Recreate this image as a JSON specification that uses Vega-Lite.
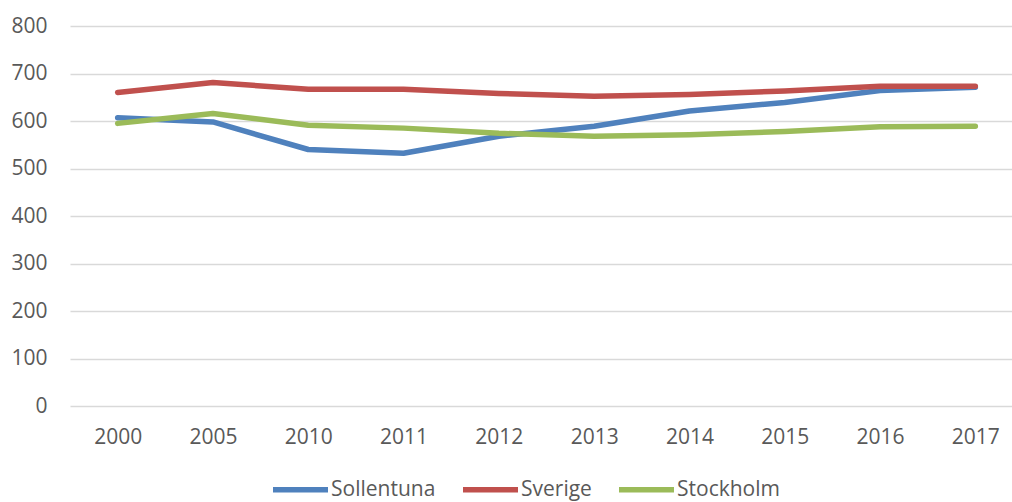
{
  "$schema": "https://vega.github.io/schema/vega-lite/v6.json",
  "width": 953,
  "height": 380,
  "autosize": {"type": "none"},
  "padding": {"left": 70, "top": 26, "right": -11, "bottom": 96},
  "background": "white",
  "config": {
    "view": {"stroke": null},
    "font": "Open Sans"
  },
  "data": {
    "values": [
      {"year": "2000", "series": "Sollentuna", "value": 607},
      {"year": "2005", "series": "Sollentuna", "value": 598},
      {"year": "2010", "series": "Sollentuna", "value": 540},
      {"year": "2011", "series": "Sollentuna", "value": 532},
      {"year": "2012", "series": "Sollentuna", "value": 568},
      {"year": "2013", "series": "Sollentuna", "value": 589},
      {"year": "2014", "series": "Sollentuna", "value": 621},
      {"year": "2015", "series": "Sollentuna", "value": 639},
      {"year": "2016", "series": "Sollentuna", "value": 664},
      {"year": "2017", "series": "Sollentuna", "value": 671},
      {"year": "2000", "series": "Sverige", "value": 660},
      {"year": "2005", "series": "Sverige", "value": 681},
      {"year": "2010", "series": "Sverige", "value": 667},
      {"year": "2011", "series": "Sverige", "value": 667},
      {"year": "2012", "series": "Sverige", "value": 658},
      {"year": "2013", "series": "Sverige", "value": 652},
      {"year": "2014", "series": "Sverige", "value": 656},
      {"year": "2015", "series": "Sverige", "value": 663},
      {"year": "2016", "series": "Sverige", "value": 673},
      {"year": "2017", "series": "Sverige", "value": 673},
      {"year": "2000", "series": "Stockholm", "value": 595},
      {"year": "2005", "series": "Stockholm", "value": 616},
      {"year": "2010", "series": "Stockholm", "value": 591},
      {"year": "2011", "series": "Stockholm", "value": 585},
      {"year": "2012", "series": "Stockholm", "value": 574},
      {"year": "2013", "series": "Stockholm", "value": 568},
      {"year": "2014", "series": "Stockholm", "value": 571},
      {"year": "2015", "series": "Stockholm", "value": 578},
      {"year": "2016", "series": "Stockholm", "value": 588},
      {"year": "2017", "series": "Stockholm", "value": 589}
    ]
  },
  "mark": {"type": "line", "strokeWidth": 5.5, "strokeCap": "round", "strokeJoin": "round"},
  "encoding": {
    "x": {
      "field": "year",
      "type": "ordinal",
      "scale": {"type": "point", "padding": 0.5},
      "axis": {
        "title": null,
        "domain": false,
        "ticks": false,
        "grid": false,
        "labelAngle": 0,
        "labelFontSize": 21,
        "labelColor": "#595959",
        "labelPadding": 20
      }
    },
    "y": {
      "field": "value",
      "type": "quantitative",
      "scale": {"domain": [0, 800], "nice": false},
      "axis": {
        "title": null,
        "domain": false,
        "ticks": false,
        "values": [0, 100, 200, 300, 400, 500, 600, 700, 800],
        "gridColor": "#d9d9d9",
        "gridWidth": 1.3,
        "labelFontSize": 21,
        "labelColor": "#595959",
        "labelPadding": 23
      }
    },
    "color": {
      "field": "series",
      "type": "nominal",
      "sort": ["Sollentuna", "Sverige", "Stockholm"],
      "scale": {"domain": ["Sollentuna", "Sverige", "Stockholm"], "range": ["#4f81bd", "#c0504d", "#9bbb59"]},
      "legend": {
        "title": null,
        "orient": "none",
        "legendX": 200,
        "legendY": 433,
        "direction": "horizontal",
        "symbolType": "stroke",
        "symbolSize": 3025,
        "symbolStrokeWidth": 5.5,
        "labelFontSize": 21,
        "labelColor": "#595959",
        "labelOffset": 0,
        "columnPadding": 16
      }
    }
  }
}
